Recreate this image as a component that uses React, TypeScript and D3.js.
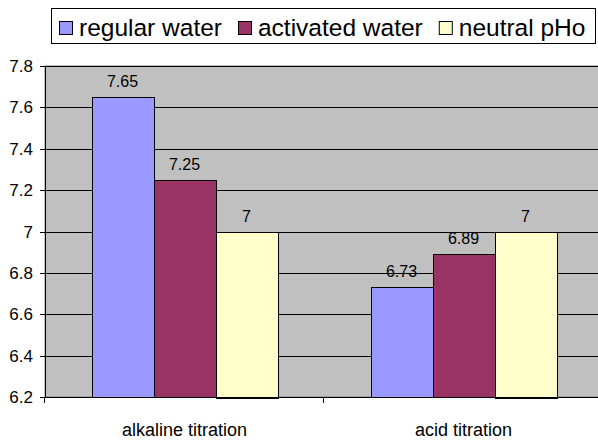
import { useEffect, useRef } from 'react'
import * as d3 from 'd3'

const categories = ['alkaline titration', 'acid titration']
const seriesNames = ['regular water', 'activated water', 'neutral pHo']
const regularWater = [7.65, 6.73]
const activatedWater = [7.25, 6.89]
const neutralPHo = [7, 7]
const seriesColors = ['#9999FF', '#993366', '#FFFFCC']
const yTicks = [6.2, 6.4, 6.6, 6.8, 7, 7.2, 7.4, 7.6, 7.8]

const App = () => {
  const svgRef = useRef<SVGSVGElement>(null)

  useEffect(() => {
    const width = 598
    const height = 441
    const left = 45
    const right = 603
    const top = 66
    const bottom = 397
    const font = '"Liberation Sans", Arial, sans-serif'
    const seriesValues = [regularWater, activatedWater, neutralPHo]

    const svg = d3.select(svgRef.current)
    svg.selectAll('*').remove()
    svg.attr('width', width).attr('height', height)

    const x = d3.scaleBand<string>()
      .domain(categories)
      .range([left, right])
      .padding(0)

    const xInner = d3.scaleBand<string>()
      .domain(seriesNames)
      .range([0, x.bandwidth()])
      .paddingInner(0)
      .paddingOuter(0.75)

    const y = d3.scaleLinear()
      .domain([6.2, 7.8])
      .range([bottom, top])

    // plot area
    svg.append('rect')
      .attr('x', left)
      .attr('y', top)
      .attr('width', right - left)
      .attr('height', bottom - top)
      .attr('fill', '#C0C0C0')
      .attr('stroke', '#808080')

    svg.append('g')
      .selectAll('line')
      .data(yTicks.slice(1))
      .enter()
      .append('line')
      .attr('x1', left)
      .attr('x2', right)
      .attr('y1', d => Math.round(y(d)) + 0.5)
      .attr('y2', d => Math.round(y(d)) + 0.5)
      .attr('stroke', '#000')

    // bars
    seriesNames.forEach((name, si) => {
      const g = svg.append('g')
      g.selectAll('rect')
        .data(seriesValues[si])
        .enter()
        .append('rect')
        .attr('x', (d, i) => Math.round(x(categories[i])! + xInner(name)!) + 0.5)
        .attr('y', d => Math.round(y(d)) + 0.5)
        .attr('width', Math.round(xInner.bandwidth()))
        .attr('height', d => Math.round(bottom - y(d)))
        .attr('fill', seriesColors[si])
        .attr('stroke', '#000')

      g.selectAll('text')
        .data(seriesValues[si])
        .enter()
        .append('text')
        .attr('x', (d, i) => x(categories[i])! + xInner(name)! + xInner.bandwidth() / 2)
        .attr('y', d => y(d) - 10)
        .attr('text-anchor', 'middle')
        .style('font-family', font)
        .style('font-size', '16px')
        .text(d => d)
    })

    // y axis
    const yAxis = svg.append('g')
    yAxis.append('line')
      .attr('x1', left + 0.5).attr('x2', left + 0.5)
      .attr('y1', top).attr('y2', bottom)
      .attr('stroke', '#000')
    yAxis.selectAll('line.tick')
      .data(yTicks)
      .enter()
      .append('line')
      .attr('class', 'tick')
      .attr('x1', left - 5)
      .attr('x2', left)
      .attr('y1', d => Math.round(y(d)) + 0.5)
      .attr('y2', d => Math.round(y(d)) + 0.5)
      .attr('stroke', '#000')
    yAxis.selectAll('text')
      .data(yTicks)
      .enter()
      .append('text')
      .attr('x', left - 12)
      .attr('y', d => y(d) + 6)
      .attr('text-anchor', 'end')
      .style('font-family', font)
      .style('font-size', '17px')
      .text(d => d3.format('~g')(d))

    // x axis
    const xAxis = svg.append('g')
    xAxis.append('line')
      .attr('x1', left).attr('x2', right)
      .attr('y1', bottom + 0.5).attr('y2', bottom + 0.5)
      .attr('stroke', '#000')
    xAxis.selectAll('line.tick')
      .data([left, ...categories.map(c => x(c)! + x.bandwidth())])
      .enter()
      .append('line')
      .attr('class', 'tick')
      .attr('x1', d => Math.round(d) - 0.5)
      .attr('x2', d => Math.round(d) - 0.5)
      .attr('y1', bottom)
      .attr('y2', bottom + 6)
      .attr('stroke', '#000')
    xAxis.selectAll('text')
      .data(categories)
      .enter()
      .append('text')
      .attr('x', d => x(d)! + x.bandwidth() / 2)
      .attr('y', 436)
      .attr('text-anchor', 'middle')
      .style('font-family', font)
      .style('font-size', '18px')
      .text(d => d)

    // legend
    const legend = svg.append('g')
    legend.append('rect')
      .attr('x', 51.5)
      .attr('y', 8.5)
      .attr('width', 544)
      .attr('height', 35)
      .attr('fill', '#fff')
      .attr('stroke', '#000')

    let lx = 59
    seriesNames.forEach((name, si) => {
      legend.append('rect')
        .attr('x', lx + 0.5)
        .attr('y', 21.5)
        .attr('width', 13)
        .attr('height', 13)
        .attr('fill', seriesColors[si])
        .attr('stroke', '#000')
      const t = legend.append('text')
        .attr('x', lx + 20)
        .attr('y', 35.5)
        .style('font-family', font)
        .style('font-size', '24.5px')
        .text(name)
      const w = (t.node() as SVGTextElement).getComputedTextLength()
      lx += 20 + w + 16
    })
  }, [])

  return (
    <svg ref={svgRef} style={{ position: 'absolute', left: 0, top: 0 }}></svg>
  )
}

export default App
